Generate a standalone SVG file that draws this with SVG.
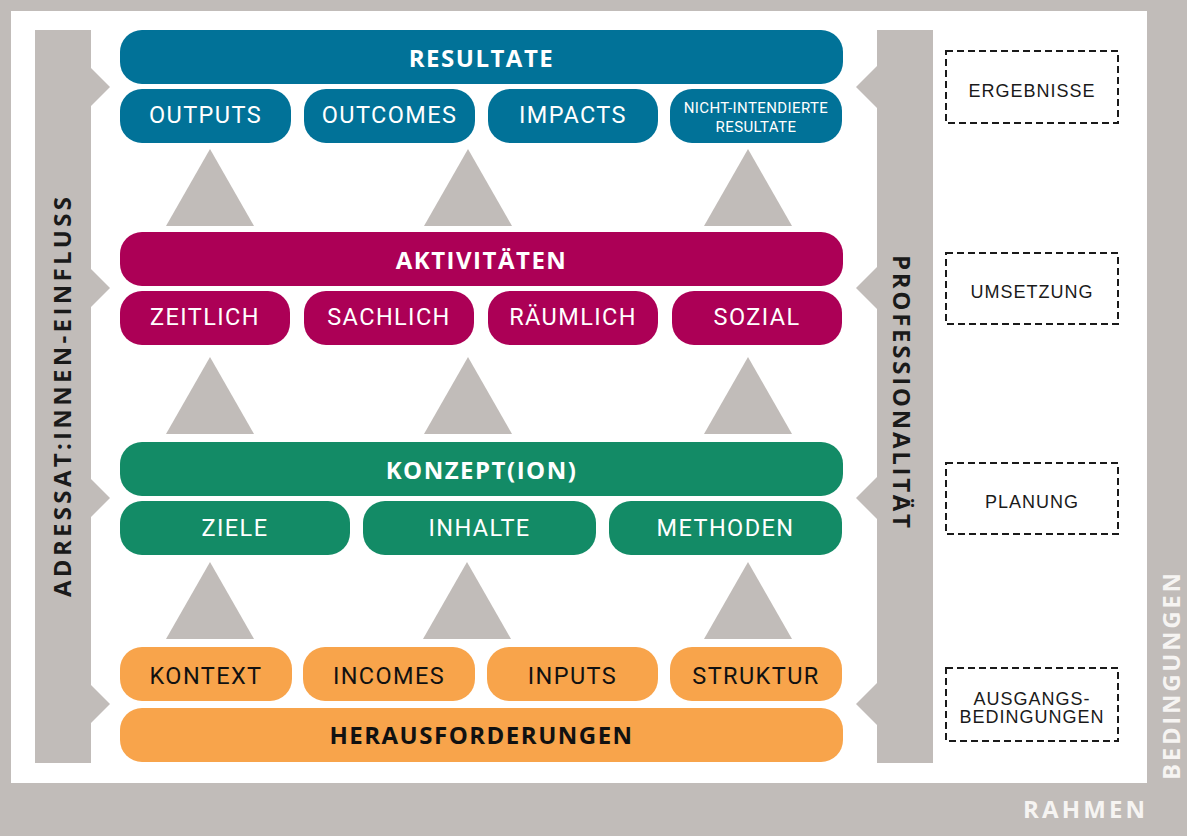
<svg xmlns="http://www.w3.org/2000/svg" width="1187" height="836" viewBox="0 0 1187 836">
<style>
.frame{fill:#c1bcb9}
.blue{fill:#017298}
.mag{fill:#ac0056}
.grn{fill:#138b66}
.org{fill:#f8a44b}
.title{font-family:"Open Sans","Liberation Sans",sans-serif;font-weight:700;font-size:24px;letter-spacing:1.5px;text-anchor:middle}
.sub{font-family:Roboto,"Liberation Sans",sans-serif;font-weight:400;font-size:23.5px;letter-spacing:1.4px;text-anchor:middle}
.small{font-family:Roboto,"Liberation Sans",sans-serif;font-size:15px;letter-spacing:0.4px;text-anchor:middle;fill:#ffffff}
.w{fill:#ffffff}
.k{fill:#111111}
.side{font-family:"Open Sans","Liberation Sans",sans-serif;font-weight:700;font-size:24px;fill:#1a1a1a}
.frm{font-family:"Open Sans","Liberation Sans",sans-serif;font-weight:700;font-size:24px;fill:#f6f4f2}
.dash{fill:none;stroke:#1a1a1a;stroke-width:2;stroke-dasharray:7 4}
.lbl{font-family:"Liberation Sans",Arial,sans-serif;font-size:18px;letter-spacing:1px;text-anchor:middle;fill:#1a1a1a}
.tri{fill:#c1bcb9}
</style>
<rect x="0" y="0" width="1187" height="836" class="frame"/>
<rect x="11" y="11" width="1136" height="772" fill="#ffffff"/>
<text class="frm" x="1023" y="818" textLength="122" lengthAdjust="spacing">RAHMEN</text>
<text class="frm" transform="translate(1180,780) rotate(-90)" x="0" y="0" textLength="207" lengthAdjust="spacing">BEDINGUNGEN</text>

<g id="adressat">
<rect x="35" y="30" width="56" height="733" class="frame"/>
<polygon points="91,68 110,87 91,106" class="frame"/>
<polygon points="91,269 110,288 91,307" class="frame"/>
<polygon points="91,479 110,498 91,517" class="frame"/>
<polygon points="91,685 110,704 91,723" class="frame"/>
<text class="side" transform="translate(71,597) rotate(-90)" x="0" y="0" textLength="400" lengthAdjust="spacing">ADRESSAT:INNEN-EINFLUSS</text>
</g>

<g id="professionalitaet">
<rect x="877" y="30" width="56" height="733" class="frame"/>
<polygon points="877,66 856,87 877,108" class="frame"/>
<polygon points="877,267 856,288 877,309" class="frame"/>
<polygon points="877,477 856,498 877,519" class="frame"/>
<polygon points="877,683 856,704 877,725" class="frame"/>
<text class="side" transform="translate(893,255) rotate(90)" x="0" y="0" textLength="273" lengthAdjust="spacing">PROFESSIONALITÄT</text>
</g>

<g id="connectors">
<polygon class="tri" points="166,226 210,149 254,226"/>
<polygon class="tri" points="424,226 468,149 512,226"/>
<polygon class="tri" points="704,226 748,149 792,226"/>
<polygon class="tri" points="166,434 210,357 254,434"/>
<polygon class="tri" points="424,434 468,357 512,434"/>
<polygon class="tri" points="704,434 748,357 792,434"/>
<polygon class="tri" points="166,639 210,562 254,639"/>
<polygon class="tri" points="423,639 467,562 511,639"/>
<polygon class="tri" points="704,639 748,562 792,639"/>
</g>

<g id="resultate">
<rect x="120" y="30" width="723" height="54" rx="22" class="blue"/>
<text class="title w" x="481.5" y="67">RESULTATE</text>
</g>
<g id="outputs"><rect x="120" y="89" width="171" height="54" rx="22" class="blue"/><text class="sub w" x="205.5" y="123">OUTPUTS</text></g>
<g id="outcomes"><rect x="304" y="89" width="171" height="54" rx="22" class="blue"/><text class="sub w" x="389.5" y="123">OUTCOMES</text></g>
<g id="impacts"><rect x="488" y="89" width="170" height="54" rx="22" class="blue"/><text class="sub w" x="573" y="123">IMPACTS</text></g>
<g id="nicht-intendierte"><rect x="670" y="89" width="172" height="54" rx="22" class="blue"/><text class="small" x="756" y="113">NICHT-INTENDIERTE</text><text class="small" x="756" y="132">RESULTATE</text></g>

<g id="aktivitaeten">
<rect x="120" y="232" width="723" height="54" rx="22" class="mag"/>
<text class="title w" x="481.5" y="269">AKTIVITÄTEN</text>
</g>
<g id="zeitlich"><rect x="120" y="291" width="170" height="54" rx="22" class="mag"/><text class="sub w" x="205" y="325">ZEITLICH</text></g>
<g id="sachlich"><rect x="304" y="291" width="170" height="54" rx="22" class="mag"/><text class="sub w" x="389" y="325">SACHLICH</text></g>
<g id="raeumlich"><rect x="488" y="291" width="170" height="54" rx="22" class="mag"/><text class="sub w" x="573" y="325">RÄUMLICH</text></g>
<g id="sozial"><rect x="672" y="291" width="170" height="54" rx="22" class="mag"/><text class="sub w" x="757" y="325">SOZIAL</text></g>

<g id="konzeption">
<rect x="120" y="442" width="723" height="54" rx="22" class="grn"/>
<text class="title w" x="481.5" y="479">KONZEPT(ION)</text>
</g>
<g id="ziele"><rect x="120" y="501" width="230" height="54" rx="22" class="grn"/><text class="sub w" x="235" y="536">ZIELE</text></g>
<g id="inhalte"><rect x="363" y="501" width="233" height="54" rx="22" class="grn"/><text class="sub w" x="479.5" y="536">INHALTE</text></g>
<g id="methoden"><rect x="609" y="501" width="233" height="54" rx="22" class="grn"/><text class="sub w" x="725.5" y="536">METHODEN</text></g>

<g id="kontext"><rect x="120" y="647" width="172" height="54" rx="22" class="org"/><text class="sub k" x="206" y="684">KONTEXT</text></g>
<g id="incomes"><rect x="303" y="647" width="172" height="54" rx="22" class="org"/><text class="sub k" x="389" y="684">INCOMES</text></g>
<g id="inputs"><rect x="487" y="647" width="171" height="54" rx="22" class="org"/><text class="sub k" x="572.5" y="684">INPUTS</text></g>
<g id="struktur"><rect x="670" y="647" width="172" height="54" rx="22" class="org"/><text class="sub k" x="756" y="684">STRUKTUR</text></g>
<g id="herausforderungen">
<rect x="120" y="708" width="723" height="54" rx="22" class="org"/>
<text class="title k" x="481.5" y="744">HERAUSFORDERUNGEN</text>
</g>

<g id="ergebnisse"><rect x="946" y="51" width="172" height="72" class="dash"/><text class="lbl" x="1032" y="97">ERGEBNISSE</text></g>
<g id="umsetzung"><rect x="946" y="253" width="172" height="71" class="dash"/><text class="lbl" x="1032" y="298">UMSETZUNG</text></g>
<g id="planung"><rect x="946" y="463" width="172" height="71" class="dash"/><text class="lbl" x="1032" y="508">PLANUNG</text></g>
<g id="ausgangsbedingungen"><rect x="946" y="668" width="172" height="73" class="dash"/><text class="lbl" x="1032" y="705">AUSGANGS-</text><text class="lbl" x="1032" y="723">BEDINGUNGEN</text></g>
</svg>
